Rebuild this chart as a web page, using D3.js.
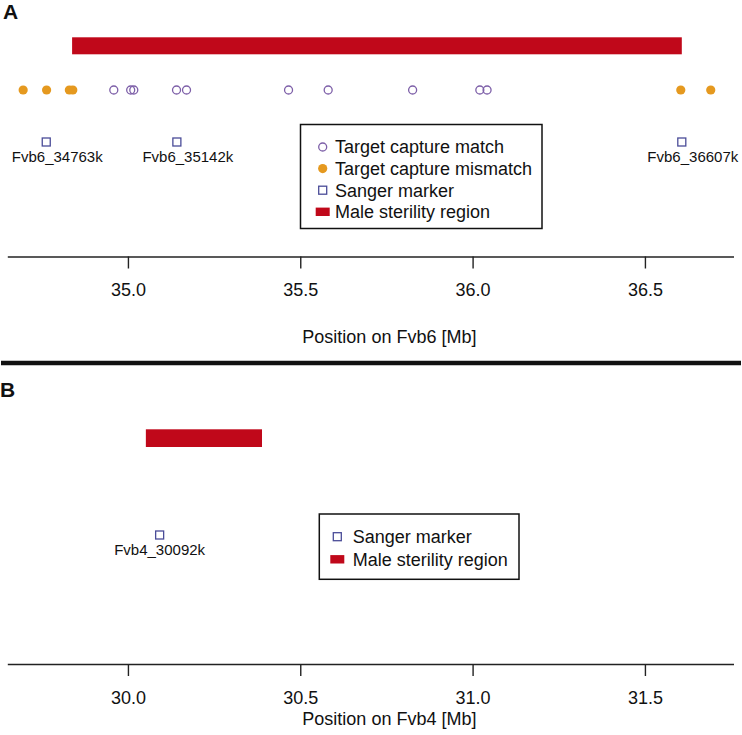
<!DOCTYPE html>
<html>
<head>
<meta charset="utf-8">
<script src="https://cdn.jsdelivr.net/npm/d3@7"></script>
<style>
  html, body { margin: 0; padding: 0; background: #fff; }
  svg { display: block; font-family: "Liberation Sans", Arial, Helvetica, sans-serif; }
</style>
</head>
<body>
<svg id="chart" width="742" height="735"></svg>
<script>
// ---- Data (values in Mb) ----
// Panel A: Fvb6
const regionA = [34.838, 36.607];
const matchA = [34.959, 35.008, 35.017, 35.141, 35.170, 35.466, 35.581, 35.826, 36.021, 36.042];
const mismatchA = [34.696, 34.764, 34.830, 34.840, 36.604, 36.691];
const sangerA = [34.763, 35.142, 36.607];
const sangerLabelsA = ["Fvb6_34763k", "Fvb6_35142k", "Fvb6_36607k"];
const ticksA = [35.0, 35.5, 36.0, 36.5];
const domainA = [34.65, 36.757];

// Panel B: Fvb4
const regionB = [30.052, 30.389];
const sangerB = [30.092];
const sangerLabelsB = ["Fvb4_30092k"];
const ticksB = [30.0, 30.5, 31.0, 31.5];
const domainB = [29.65, 31.757];

const legendA = ["Target capture match", "Target capture mismatch", "Sanger marker", "Male sterility region"];
const legendB = ["Sanger marker", "Male sterility region"];

// ---- Styles ----
const RED = "#c0081a", ORANGE = "#e5991f", PURPLE = "#7d5fa8", BLUE = "#4a4c98", AX = "#222";

const svg = d3.select("#chart");
const fmt = d3.format(".1f");

function panel(cfg) {
  const x = d3.scaleLinear().domain(cfg.domain).range([7.3, 733.5]);
  const g = svg.append("g");

  // panel letter
  g.append("text").attr("x", cfg.letterX).attr("y", cfg.letterY)
    .attr("font-size", 21).attr("font-weight", "bold").attr("fill", "#111").text(cfg.letter);

  // male sterility region bar
  g.append("rect")
    .attr("x", x(cfg.region[0])).attr("y", cfg.barY)
    .attr("width", x(cfg.region[1]) - x(cfg.region[0])).attr("height", cfg.barH)
    .attr("fill", RED);

  // mismatch points (filled)
  if (cfg.mismatch) {
    g.selectAll("circle.mm").data(cfg.mismatch).join("circle")
      .attr("class", "mm").attr("cx", d => x(d)).attr("cy", cfg.pointY).attr("r", 4.6)
      .attr("fill", ORANGE);
  }
  // match points (open)
  if (cfg.match) {
    g.selectAll("circle.m").data(cfg.match).join("circle")
      .attr("class", "m").attr("cx", d => x(d)).attr("cy", cfg.pointY).attr("r", 4)
      .attr("fill", "none").attr("stroke", PURPLE).attr("stroke-width", 1.3);
  }

  // sanger markers
  const s = 8;
  g.selectAll("rect.sq").data(cfg.sanger).join("rect")
    .attr("class", "sq").attr("x", d => x(d) - s / 2).attr("y", cfg.sqY - s / 2)
    .attr("width", s).attr("height", s)
    .attr("fill", "none").attr("stroke", BLUE).attr("stroke-width", 1.3);
  g.selectAll("text.sl").data(cfg.sanger).join("text")
    .attr("class", "sl").attr("x", d => x(d) + cfg.labelDx).attr("y", cfg.sqY + 20)
    .attr("text-anchor", "middle").attr("font-size", 15).attr("fill", "#111")
    .text((d, i) => cfg.sangerLabels[i]);

  // legend
  const lg = g.append("g");
  lg.append("rect").attr("x", cfg.leg.x).attr("y", cfg.leg.y)
    .attr("width", cfg.leg.w).attr("height", cfg.leg.h)
    .attr("fill", "#fff").attr("stroke", "#111").attr("stroke-width", 1.5);
  cfg.legend.forEach((label, i) => {
    const cy = cfg.leg.y0 + i * cfg.leg.dy;
    const sx = cfg.leg.sx;
    if (label === "Target capture match") {
      lg.append("circle").attr("cx", sx).attr("cy", cy).attr("r", 4)
        .attr("fill", "none").attr("stroke", PURPLE).attr("stroke-width", 1.3);
    } else if (label === "Target capture mismatch") {
      lg.append("circle").attr("cx", sx).attr("cy", cy).attr("r", 4.6).attr("fill", ORANGE);
    } else if (label === "Sanger marker") {
      lg.append("rect").attr("x", sx - 4).attr("y", cy - 4).attr("width", 8).attr("height", 8)
        .attr("fill", "none").attr("stroke", BLUE).attr("stroke-width", 1.3);
    } else {
      lg.append("rect").attr("x", sx - 7).attr("y", cy - 4.2).attr("width", 14).attr("height", 8.4)
        .attr("fill", RED);
    }
    lg.append("text").attr("x", cfg.leg.tx).attr("y", cy + 6.3)
      .attr("font-size", 18).attr("fill", "#111").text(label);
  });

  // axis
  const axis = d3.axisBottom(x).tickValues(cfg.ticks).tickFormat(fmt)
    .tickSize(12).tickSizeOuter(0).tickPadding(15);
  const ag = g.append("g").attr("transform", `translate(0,${cfg.axisY})`).call(axis);
  ag.select(".domain").attr("stroke", AX).attr("stroke-width", 1.4);
  ag.selectAll(".tick line").attr("stroke", AX).attr("stroke-width", 1.4);
  ag.selectAll(".tick text").attr("font-size", 18).attr("fill", "#111")
    .attr("font-family", "'Liberation Sans', Arial, sans-serif");

  g.append("text").attr("x", (x.range()[0] + x.range()[1]) / 2 + 19).attr("y", cfg.titleY)
    .attr("text-anchor", "middle").attr("font-size", 18).attr("fill", "#111").text(cfg.title);
}

panel({
  letter: "A", letterX: 3, letterY: 19,
  domain: domainA, region: regionA, barY: 37.3, barH: 17,
  match: matchA, mismatch: mismatchA, pointY: 90,
  sanger: sangerA, sangerLabels: sangerLabelsA, sqY: 142, labelDx: 11,
  legend: legendA,
  leg: { x: 300.5, y: 124.5, w: 241.5, h: 104, y0: 147, dy: 21.6, sx: 322.7, tx: 335 },
  ticks: ticksA, axisY: 256.5, title: "Position on Fvb6 [Mb]", titleY: 342.5
});

panel({
  letter: "B", letterX: 0, letterY: 397,
  domain: domainB, region: regionB, barY: 429.3, barH: 17.7,
  sanger: sangerB, sangerLabels: sangerLabelsB, sqY: 535, labelDx: 0,
  legend: legendB,
  leg: { x: 319.3, y: 514, w: 199.7, h: 65.3, y0: 536.7, dy: 22.6, sx: 337.3, tx: 352.7 },
  ticks: ticksB, axisY: 664, title: "Position on Fvb4 [Mb]", titleY: 725
});

// separator between panels
svg.append("line").attr("x1", 1).attr("x2", 741).attr("y1", 363).attr("y2", 363)
  .attr("stroke", "#111").attr("stroke-width", 4.5);
</script>
</body>
</html>
